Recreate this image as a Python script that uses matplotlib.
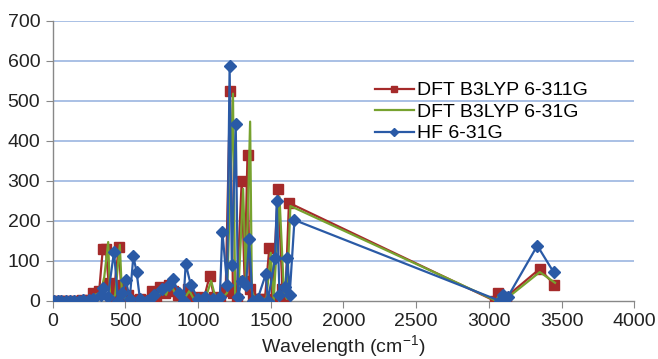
import matplotlib
matplotlib.use("Agg")
import matplotlib.pyplot as plt


# DFT B3LYP 6-311G
red_x = [20, 45, 70, 100, 140, 170, 200, 240, 280, 320, 345, 365, 385, 400,
         420, 455, 470, 490, 520, 560, 600, 640, 680, 710, 740, 770, 800, 830,
         860, 900, 930, 960, 1000, 1040, 1080, 1110, 1150, 1190, 1220, 1240,
         1265, 1300, 1320, 1340, 1355, 1380, 1420, 1460, 1490, 1510, 1550,
         1580, 1600, 1625, 3040, 3060, 3090, 3120, 3350, 3450]
red_y = [0, 0, 0, 0, 0, 0, 2, 3, 20, 25, 130, 130, 45, 3,
         20, 135, 40, 5, 15, 2, 5, 3, 25, 10, 35, 20, 40, 25,
         15, 10, 30, 5, 10, 5, 63, 10, 5, 25, 525, 20,
         5, 300, 50, 365, 30, 5, 5, 5, 133, 0, 280,
         30, 5, 245, 0, 20, 5, 10, 80, 40]

# DFT B3LYP 6-31G
green_x = [25, 50, 75, 105, 145, 175, 205, 245, 290, 330, 355, 382, 395, 410,
           430, 462, 475, 500, 530, 570, 610, 650, 690, 720, 750, 780, 810,
           840, 870, 910, 940, 970, 1010, 1050, 1090, 1120, 1160, 1200, 1240,
           1255, 1275, 1310, 1330, 1358, 1370, 1390, 1430, 1470, 1500, 1520,
           1560, 1590, 1610, 1635, 3050, 3070, 3100, 3130, 3350, 3455]
green_y = [0, 0, 0, 0, 0, 0, 2, 3, 15, 20, 60, 147, 10, 5,
           15, 140, 30, 5, 10, 3, 5, 3, 20, 8, 30, 15, 45,
           20, 10, 8, 25, 5, 8, 5, 50, 8, 5, 20, 518,
           15, 5, 280, 40, 448, 25, 5, 5, 5, 120, 0,
           260, 25, 5, 237, 0, 15, 5, 8, 72, 45]

# HF 6-31G
blue_x = [10, 35, 60, 90, 120, 150, 180, 210, 250, 280, 330, 346, 380, 422,
          450, 480, 504, 530, 555, 577, 600, 650, 700, 750, 800, 825, 870,
          900, 915, 950, 1000, 1050, 1100, 1150, 1167, 1200, 1217, 1232, 1259,
          1275, 1300, 1330, 1351, 1375, 1410, 1466, 1480, 1530, 1541, 1560,
          1600, 1615, 1630, 1663, 3075, 3095, 3110, 3130, 3333, 3446]
blue_y = [0, 0, 0, 0, 0, 0, 0, 2, 3, 5, 15, 32, 10, 123,
          0, 20, 52, 5, 111, 73, 5, 0, 15, 30, 40, 54, 20,
          0, 92, 40, 5, 10, 5, 10, 173, 40, 587, 90, 443,
          10, 50, 40, 154, 0, 5, 67, 0, 107, 250, 15,
          35, 107, 15, 202, 0, 15, 5, 10, 138, 71]

x_ticks = [0, 500, 1000, 1500, 2000, 2500, 3000, 3500, 4000]
y_ticks = [0, 100, 200, 300, 400, 500, 600, 700]

plt.rcParams["font.family"] = ["Liberation Sans", "DejaVu Sans"]
plt.rcParams["mathtext.default"] = "regular"

fig = plt.figure(figsize=(6.58, 3.59), dpi=100)
ax = fig.add_axes([0.080, 0.162, 0.884, 0.780])

ax.plot(red_x, red_y, color="#a52a2a", lw=1.6, marker="s", markersize=6.5,
        label="DFT B3LYP 6-311G", zorder=3)
ax.plot(green_x, green_y, color="#77a22f", lw=1.6,
        label="DFT B3LYP 6-31G", zorder=4)
ax.plot(blue_x, blue_y, color="#2a5aa6", lw=1.6, marker="D", markersize=6,
        label="HF 6-31G", zorder=5)

ax.set_xlim(0, 4000)
ax.set_ylim(0, 700)
ax.set_xticks(x_ticks)
ax.set_yticks(y_ticks)
ax.tick_params(labelsize=14, colors="#222222", length=5, width=0.8, pad=4)
ax.tick_params(axis="both", color="#888888")

for y in y_ticks[1:]:
    ax.axhline(y, color="#a3bbe3", lw=1.3, zorder=1)

for side in ["top", "right"]:
    ax.spines[side].set_visible(False)
for side in ["left", "bottom"]:
    ax.spines[side].set_color("#888888")
    ax.spines[side].set_linewidth(1.0)

ax.set_xlabel("Wavelength (cm$^{-1}$)", fontsize=14, color="#222222",
              labelpad=2)

ax.legend(loc="upper left", bbox_to_anchor=(0.524, 0.845), frameon=False,
          fontsize=14, handlelength=2.0, handletextpad=0.15, labelspacing=0.2,
          markerscale=0.75)

fig.savefig("out.png", dpi=100)
